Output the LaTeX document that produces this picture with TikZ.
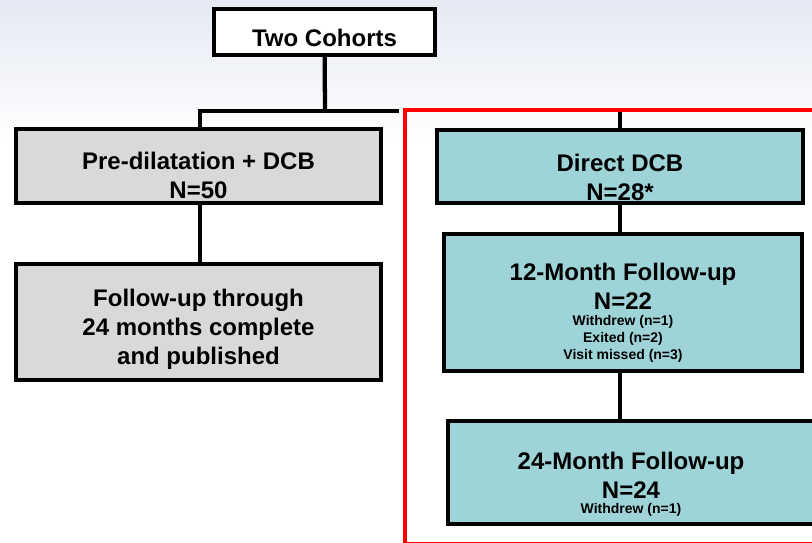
\documentclass[tikz,border=0pt]{standalone}
\usepackage{fontspec}
\setmainfont{Liberation Sans}
\usetikzlibrary{shadows}

\definecolor{cohortgray}{RGB}{217,217,217}
\definecolor{directteal}{RGB}{158,211,216}
\definecolor{slidetop}{RGB}{229,233,243}
\newcommand{\smallnote}[1]{{\fontsize{10.5}{12}\selectfont #1}}

\begin{document}
\begin{tikzpicture}[x=0.75pt, y=-0.75pt,
    box/.style={draw, line width=3.2pt, inner sep=0pt, align=center,
      text depth=0pt, font=\bfseries\fontsize{18}{21.75}\selectfont,
      drop shadow={opacity=0.2, shadow xshift=1pt, shadow yshift=-1pt}},
    graybox/.style={box, fill=cohortgray},
    tealbox/.style={box, fill=directteal},
    link/.style={line width=3.2pt}]
  \useasboundingbox (0,0) rectangle (812,542);
  \fill[white] (0,0) rectangle (812,542);
  \shade[top color=slidetop, bottom color=white] (0,0) rectangle (812,140);

  % top of the tree
  \node[box, fill=white, minimum width=165.75pt, minimum height=34.5pt,
    text height=21.9pt] (cohorts) at (324.5,32) {Two Cohorts};

  % left cohort
  \node[graybox, minimum width=273.75pt, minimum height=55.5pt,
    text height=48.9pt] (predcb) at (198.5,166) {Pre-dilatation + DCB\\N=50};
  \node[graybox, minimum width=273.75pt, minimum height=87pt,
    text height=63pt] (pubfu) at (198.5,322)
    {Follow-up through\\24 months complete\\and published};

  % right cohort
  \node[tealbox, minimum width=274.5pt, minimum height=54.75pt,
    text height=51.15pt] (directdcb) at (620,166.5) {Direct DCB\\N=28*};
  \node[tealbox, minimum width=268.5pt, minimum height=102.75pt,
    text height=84.75pt] (fu12) at (623,302.5)
    {12-Month Follow-up\\N=22\\[-9.5pt]\smallnote{Withdrew (n=1)}\\[-9.2pt]
     \smallnote{Exited (n=2)}\\[-9.2pt]\smallnote{Visit missed (n=3)}};
  \node[tealbox, minimum width=274.5pt, minimum height=77.25pt,
    text height=60.75pt] (fu24) at (631,472.5)
    {24-Month Follow-up\\N=24\\[-11pt]\smallnote{Withdrew (n=1)}};

  % connectors
  \coordinate (split) at (325,111);
  \coordinate (splitl) at (198,111);
  \coordinate (splitr) at (399,111);
  \coordinate (predrop) at (200,111);
  \coordinate (directdrop) at (620,110);
  \draw[link] (cohorts) -- (split);
  \draw[link] (splitl) -- (splitr);
  \draw[link] (predrop) -- (predrop |- predcb.north);
  \draw[link] (predcb.south -| predrop) -- (predrop |- pubfu.north);
  \draw[link] (directdrop) -- (directdcb.north);
  \draw[link] (directdcb.south) -- (directdcb.south |- fu12.north);
  \draw[link] (fu12.south -| directdcb.south) -- (directdcb.south |- fu24.north);

  % frame round the direct DCB cohort
  \draw[red, line width=3pt] (405,110) rectangle (840,544);
\end{tikzpicture}
\end{document}
